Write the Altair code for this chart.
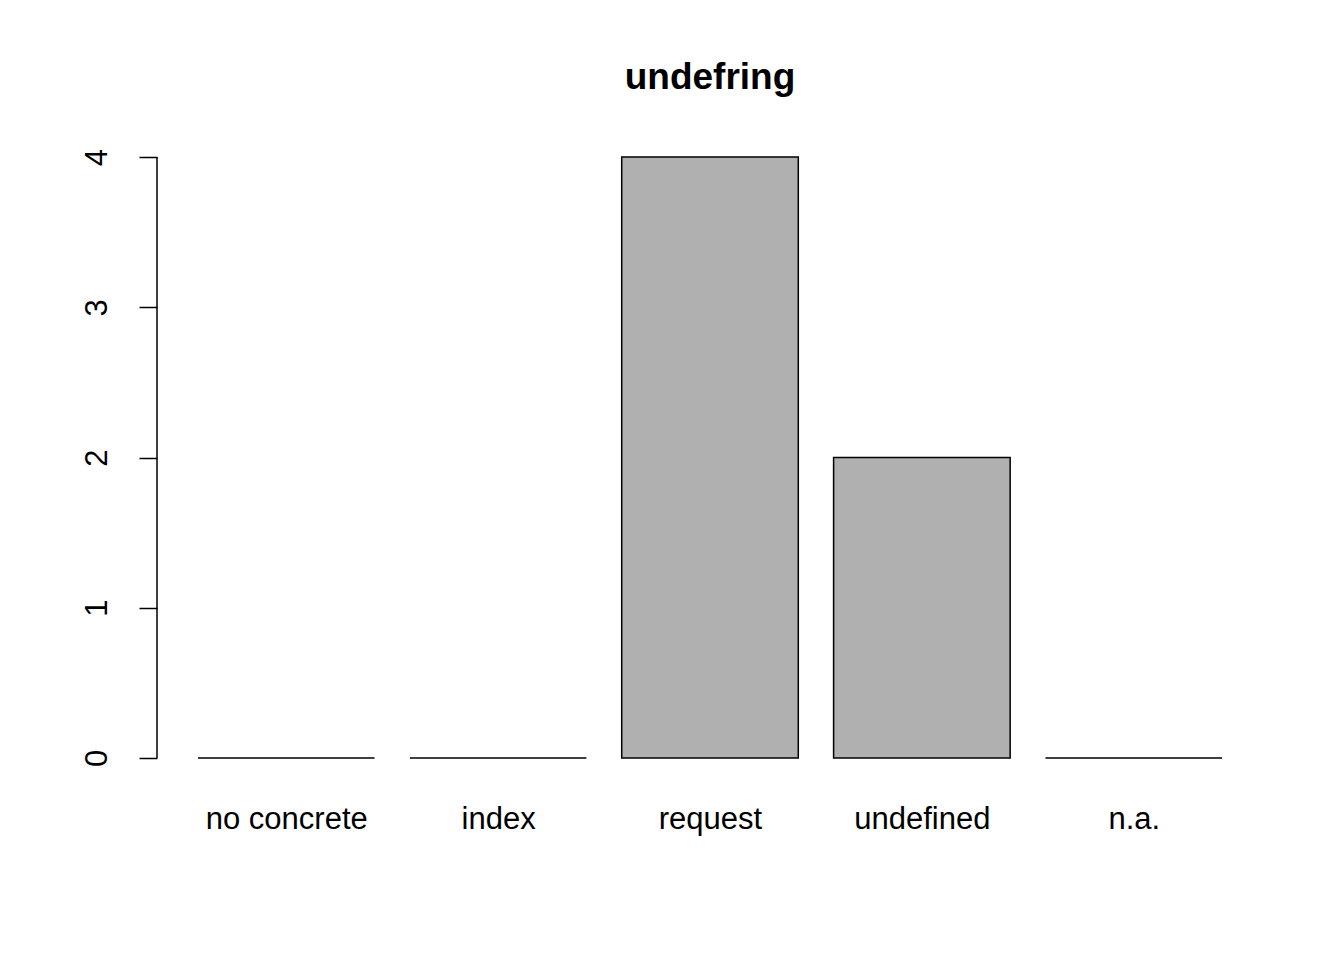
import pandas as pd
import altair as alt

categories = ["no concrete", "index", "request", "undefined", "n.a."]
counts = [0, 0, 4, 2, 0]

# R barplot layout: width 1, space 0.2
df = pd.DataFrame({
    "cat": categories,
    "count": counts,
    "x0": [0.2 + 1.2 * i for i in range(len(categories))],
})
df["x1"] = df["x0"] + 1
df["xc"] = df["x0"] + 0.5

xdom = [-0.032, 6.232]
ydom = [-0.16, 4.16]
font = "Liberation Sans"

label_expr = "{" + ",".join(f"'{c}':'{n}'" for c, n in zip(df["xc"], categories)) + "}[datum.value]"

bars = alt.Chart(df).mark_rect(fill="#b0b0b0", stroke="black", strokeWidth=1.5).encode(
    x=alt.X("x0:Q", scale=alt.Scale(domain=xdom, nice=False, zero=False),
            axis=alt.Axis(values=list(df["xc"]), labelExpr=label_expr, domain=False, ticks=False,
                          grid=False, labelFontSize=31, labelFont=font, labelColor="black",
                          labelPadding=22, labelBaseline="top", title=None)),
    x2="x1:Q",
    y=alt.Y("zero:Q", scale=alt.Scale(domain=ydom, nice=False, zero=False),
            axis=alt.Axis(values=[0, 1, 2, 3, 4], format="d", domain=False, grid=False, tickSize=18,
                          tickColor="black", tickWidth=1.5, labelAngle=-90, labelAlign="center",
                          labelBaseline="bottom", labelPadding=26, labelFontSize=31,
                          labelFont=font, labelColor="black", title=None)),
    y2="count:Q",
).transform_calculate(zero="0")

axis_line = alt.Chart(pd.DataFrame({"x": [xdom[0]], "y0": [0], "y1": [4]})).mark_rule(
    color="black", strokeWidth=1.5
).encode(x="x:Q", y="y0:Q", y2="y1:Q")

chart = alt.layer(bars, axis_line).properties(
    width=1106, height=649,
    title=alt.TitleParams("undefring", fontSize=37, font=font, fontWeight="bold",
                          anchor="middle", offset=36, color="black"),
    autosize=alt.AutoSizeParams(type="none"),
    padding={"left": 149, "top": 125, "right": 73, "bottom": 170},
).configure_view(stroke=None)

chart.save("out.html", embed_options={"renderer": "svg", "actions": False})
